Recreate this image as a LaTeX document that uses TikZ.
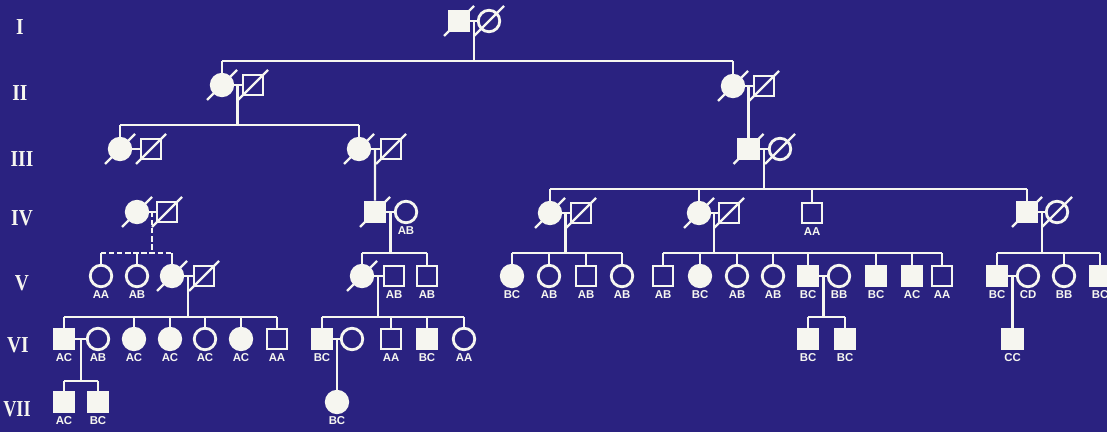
\documentclass[tikz,border=0pt]{standalone}
\usepackage{fontspec}
\setmainfont{Liberation Serif}
\newfontfamily\lblfont{Liberation Sans}
\usetikzlibrary{calc}
\definecolor{bg}{RGB}{42,34,128}
\definecolor{fg}{RGB}{246,246,240}
\tikzset{
  sym/.style={draw=fg, line width=1.6pt, inner sep=0pt, fill=bg},
  sqo/.style={sym, rectangle, minimum size=0.40cm},
  sqf/.style={sqo, fill=fg},
  cio/.style={sym, circle, minimum size=0.43cm},
  cif/.style={cio, fill=fg},
  ln/.style={draw=fg, line width=1.15pt},
  dln/.style={ln, dash pattern=on 3pt off 1.6pt},
  slashln/.style={draw=fg, line width=1.4pt},
  lbl/.style={font=\lblfont\bfseries\fontsize{6.5}{7}\selectfont, text=fg, inner sep=0pt},
  gen/.style={font=\bfseries\fontsize{13}{13}\selectfont, text=fg, inner sep=0pt},
}
\newcommand\deadmark[1]{\draw[slashln] ([shift={(-15,15)}]#1.center) -- ([shift={(15,-15)}]#1.center);}
\newcommand\gtlabel[2]{\node[lbl] (#1-g) at ([yshift=-0.37cm]#1.center) {#2};}
\begin{document}
\begin{tikzpicture}[x=0.02cm, y=-0.02cm]
\useasboundingbox (0,0) rectangle (1107,432);
\fill[bg] (0,0) rectangle (1107,432);
\clip (0,0) rectangle (1107,432);

% generation numerals
\node[gen] (gI)   at (20,27)  {\scalebox{0.85}[1]{I}};
\node[gen] (gII)  at (20,93)  {\scalebox{0.85}[1]{II}};
\node[gen] (gIII) at (22,159) {\scalebox{0.85}[1]{III}};
\node[gen] (gIV)  at (22,218) {\scalebox{0.85}[1]{IV}};
\node[gen] (gV)   at (22,283) {\scalebox{0.85}[1]{V}};
\node[gen] (gVI)  at (18,345) {\scalebox{0.85}[1]{VI}};
\node[gen] (gVII) at (17,409) {\scalebox{0.8}[1]{VII}};

% ---------- Generation I
\node[sqf] (I1) at (459,21) {};
\node[cio] (I2) at (489,21) {};
% ---------- Generation II
\node[cif] (II1) at (222,85) {};
\node[sqo] (II2) at (253,85) {};
\node[cif] (II3) at (733,86) {};
\node[sqo] (II4) at (764,86) {};
% ---------- Generation III
\node[cif] (III1) at (120,149) {};
\node[sqo] (III2) at (151,149) {};
\node[cif] (III3) at (359,149) {};
\node[sqo] (III4) at (391,149) {};
\node[sqf] (III5) at (748.5,149) {};
\node[cio] (III6) at (780,149) {};
% ---------- Generation IV
\node[cif] (IV1) at (137,212) {};
\node[sqo] (IV2) at (167,212) {};
\node[sqf] (IV3) at (375,212) {};
\node[cio] (IV4) at (406,212) {};
\node[cif] (IV5) at (550,213) {};
\node[sqo] (IV6) at (581,213) {};
\node[cif] (IV7) at (699,213) {};
\node[sqo] (IV8) at (729,213) {};
\node[sqo] (IV9) at (812,213) {};
\node[sqf] (IV10) at (1027,212) {};
\node[cio] (IV11) at (1057,212) {};
% ---------- Generation V
\node[cio] (V1) at (101,276) {};
\node[cio] (V2) at (137,276) {};
\node[cif] (V3) at (172,276) {};
\node[sqo] (V4) at (204,276) {};
\node[cif] (V5) at (362,276) {};
\node[sqo] (V6) at (394,276) {};
\node[sqo] (V7) at (427,276) {};
\node[cif] (V8) at (512,276) {};
\node[cio] (V9) at (549,276) {};
\node[sqo] (V10) at (586,276) {};
\node[cio] (V11) at (622,276) {};
\node[sqo] (V12) at (663,276) {};
\node[cif] (V13) at (700,276) {};
\node[cio] (V14) at (737,276) {};
\node[cio] (V15) at (773,276) {};
\node[sqf] (V16) at (808,276) {};
\node[cio] (V17) at (839,276) {};
\node[sqf] (V18) at (876,276) {};
\node[sqf] (V19) at (912,276) {};
\node[sqo] (V20) at (942,276) {};
\node[sqf] (V21) at (997,276) {};
\node[cio] (V22) at (1028,276) {};
\node[cio] (V23) at (1064,276) {};
\node[sqf] (V24) at (1100,276) {};
% ---------- Generation VI
\node[sqf] (VI1) at (64,339) {};
\node[cio] (VI2) at (98,339) {};
\node[cif] (VI3) at (134,339) {};
\node[cif] (VI4) at (170,339) {};
\node[cio] (VI5) at (205,339) {};
\node[cif] (VI6) at (241,339) {};
\node[sqo] (VI7) at (277,339) {};
\node[sqf] (VI8) at (322,339) {};
\node[cio] (VI9) at (352,339) {};
\node[sqo] (VI10) at (391,339) {};
\node[sqf] (VI11) at (427,339) {};
\node[cio] (VI12) at (464,339) {};
\node[sqf] (VI13) at (808,339) {};
\node[sqf] (VI14) at (845,339) {};
\node[sqf] (VI15) at (1012.5,339) {};
% ---------- Generation VII
\node[sqf] (VII1) at (64,402) {};
\node[sqf] (VII2) at (98,402) {};
\node[cif] (VII3) at (337,402) {};

% ---------- marriage lines
\foreach \a/\b in {I1/I2, II1/II2, II3/II4, III1/III2, III3/III4, III5/III6,
  IV1/IV2, IV3/IV4, IV5/IV6, IV7/IV8, IV10/IV11, V3/V4, V5/V6, V16/V17,
  V21/V22, VI1/VI2, VI8/VI9}
  {\draw[ln] (\a) -- (\b);}

% ---------- marriage midpoints
\coordinate (mI)   at ($(I1)!0.5!(I2)$);
\coordinate (mII1) at ($(II1)!0.5!(II2)$);
\coordinate (mII3) at ($(II3)!0.5!(II4)$);
\coordinate (mIII3) at ($(III3)!0.5!(III4)$);
\coordinate (mIII5) at ($(III5)!0.5!(III6)$);
\coordinate (mIV1) at ($(IV1)!0.5!(IV2)$);
\coordinate (mIV3) at ($(IV3)!0.5!(IV4)$);
\coordinate (mIV5) at ($(IV5)!0.5!(IV6)$);
\coordinate (mIV7) at ($(IV7)!0.5!(IV8)$);
\coordinate (mIV10) at ($(IV10)!0.5!(IV11)$);
\coordinate (mV3) at ($(V3)!0.5!(V4)$);
\coordinate (mV5) at ($(V5)!0.5!(V6)$);
\coordinate (mV16) at ($(V16)!0.5!(V17)$);
\coordinate (mV21) at ($(V21)!0.5!(V22)$);
\coordinate (mVI1) at ($(VI1)!0.5!(VI2)$);
\coordinate (mVI8) at ($(VI8)!0.5!(VI9)$);

% ---------- sibship rail levels
\coordinate (rII)  at (0,61);
\coordinate (rIII) at (0,125);
\coordinate (rIV)  at (0,189);
\coordinate (rV)   at (0,253);
\coordinate (rVI)  at (0,317);
\coordinate (rVII) at (0,381);

% I -> II
\draw[ln] (mI) -- (mI |- rII);
\draw[ln] (II1 |- rII) -- (II3 |- rII);
\foreach \k in {II1, II3} {\draw[ln] (\k |- rII) -- (\k);}
% II left -> III
\draw[ln] (mII1) -- (mII1 |- rIII);
\draw[ln] (III1 |- rIII) -- (III3 |- rIII);
\foreach \k in {III1, III3} {\draw[ln] (\k |- rIII) -- (\k);}
% II right -> III5
\draw[ln] (mII3) -- (III5);
% III3 couple -> IV3
\draw[ln] (mIII3) -- (IV3);
% III5 couple -> IV
\draw[ln] (mIII5) -- (mIII5 |- rIV);
\draw[ln] (IV5 |- rIV) -- (IV10 |- rIV);
\foreach \k in {IV5, IV7, IV9, IV10} {\draw[ln] (\k |- rIV) -- (\k);}
% IV1 couple -> V (dashed)
\draw[dln] (mIV1) -- (mIV1 |- rV);
\draw[dln] (V1 |- rV) -- (V3 |- rV);
\foreach \k in {V1, V2, V3} {\draw[ln] (\k |- rV) -- (\k);}
% IV3 couple -> V
\draw[ln] (mIV3) -- (mIV3 |- rV);
\draw[ln] (V5 |- rV) -- (V7 |- rV);
\foreach \k in {V5, V7} {\draw[ln] (\k |- rV) -- (\k);}
% IV5 couple -> V
\draw[ln] (mIV5) -- (mIV5 |- rV);
\draw[ln] (V8 |- rV) -- (V11 |- rV);
\foreach \k in {V8, V9, V10, V11} {\draw[ln] (\k |- rV) -- (\k);}
% IV7 couple -> V
\draw[ln] (mIV7) -- (mIV7 |- rV);
\draw[ln] (V12 |- rV) -- (V20 |- rV);
\foreach \k in {V12, V13, V14, V15, V16, V18, V19, V20} {\draw[ln] (\k |- rV) -- (\k);}
% IV10 couple -> V
\draw[ln] (mIV10) -- (mIV10 |- rV);
\draw[ln] (V21 |- rV) -- (V24 |- rV);
\foreach \k in {V21, V23, V24} {\draw[ln] (\k |- rV) -- (\k);}
% V3 couple -> VI
\draw[ln] (mV3) -- (mV3 |- rVI);
\draw[ln] (VI1 |- rVI) -- (VI7 |- rVI);
\foreach \k in {VI1, VI3, VI4, VI5, VI6, VI7} {\draw[ln] (\k |- rVI) -- (\k);}
% V5 couple -> VI
\draw[ln] (mV5) -- (mV5 |- rVI);
\draw[ln] (VI8 |- rVI) -- (VI12 |- rVI);
\foreach \k in {VI8, VI10, VI11, VI12} {\draw[ln] (\k |- rVI) -- (\k);}
% V16 couple -> VI
\draw[ln] (mV16) -- (mV16 |- rVI);
\draw[ln] (VI13 |- rVI) -- (VI14 |- rVI);
\foreach \k in {VI13, VI14} {\draw[ln] (\k |- rVI) -- (\k);}
% V21 couple -> VI15
\draw[ln] (mV21) -- (VI15);
% VI1 couple -> VII
\draw[ln] (mVI1) -- (mVI1 |- rVII);
\draw[ln] (VII1 |- rVII) -- (VII2 |- rVII);
\foreach \k in {VII1, VII2} {\draw[ln] (\k |- rVII) -- (\k);}
% VI8 couple -> VII3
\draw[ln] (mVI8) -- (VII3);

% ---------- deceased marks
\foreach \d in {I1, I2, II1, II2, II3, II4, III1, III2, III3, III4, III5, III6,
  IV1, IV2, IV3, IV5, IV6, IV7, IV8, IV10, IV11, V3, V4, V5}
  {\deadmark{\d}}

% ---------- genotype labels
\gtlabel{IV4}{AB}
\gtlabel{IV9}{AA}
\gtlabel{V1}{AA}
\gtlabel{V2}{AB}
\gtlabel{V6}{AB}
\gtlabel{V7}{AB}
\gtlabel{V8}{BC}
\gtlabel{V9}{AB}
\gtlabel{V10}{AB}
\gtlabel{V11}{AB}
\gtlabel{V12}{AB}
\gtlabel{V13}{BC}
\gtlabel{V14}{AB}
\gtlabel{V15}{AB}
\gtlabel{V16}{BC}
\gtlabel{V17}{BB}
\gtlabel{V18}{BC}
\gtlabel{V19}{AC}
\gtlabel{V20}{AA}
\gtlabel{V21}{BC}
\gtlabel{V22}{CD}
\gtlabel{V23}{BB}
\gtlabel{V24}{BC}
\gtlabel{VI1}{AC}
\gtlabel{VI2}{AB}
\gtlabel{VI3}{AC}
\gtlabel{VI4}{AC}
\gtlabel{VI5}{AC}
\gtlabel{VI6}{AC}
\gtlabel{VI7}{AA}
\gtlabel{VI8}{BC}
\gtlabel{VI10}{AA}
\gtlabel{VI11}{BC}
\gtlabel{VI12}{AA}
\gtlabel{VI13}{BC}
\gtlabel{VI14}{BC}
\gtlabel{VI15}{CC}
\gtlabel{VII1}{AC}
\gtlabel{VII2}{BC}
\gtlabel{VII3}{BC}
\end{tikzpicture}
\end{document}
